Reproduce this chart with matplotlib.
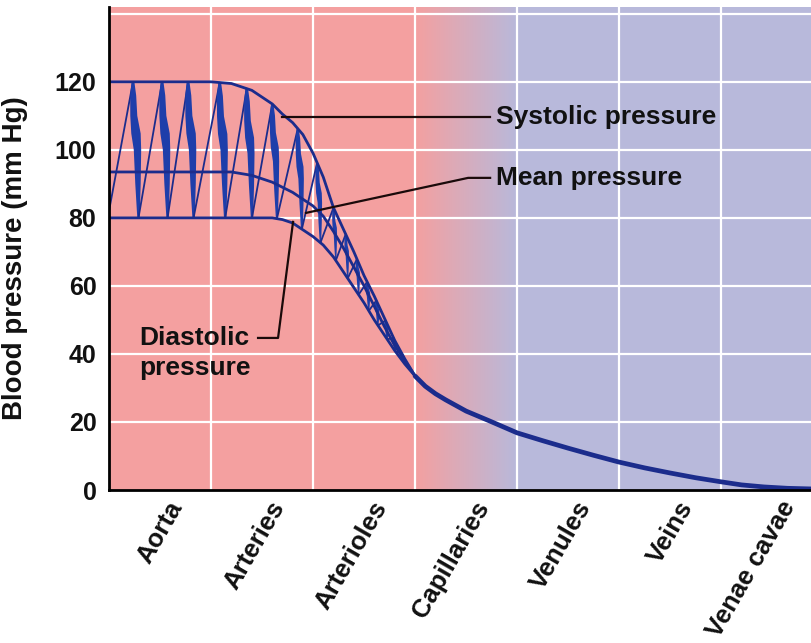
import numpy as np
import matplotlib
matplotlib.use("Agg")
import matplotlib.pyplot as plt
import matplotlib.transforms as mtransforms
from matplotlib.colors import LinearSegmentedColormap

plt.rcParams['font.family'] = ['Liberation Sans', 'DejaVu Sans']
plt.rcParams['font.weight'] = 'bold'

# ---------------- data ----------------
categories = ["Aorta", "Arteries", "Arterioles", "Capillaries", "Venules", "Veins", "Venae cavae"]
yticks = [0, 20, 40, 60, 80, 100, 120]

env_x = [0, 1.0, 1.2, 1.4, 1.6, 1.7, 1.8, 1.9, 2.0, 2.1, 2.2, 2.3, 2.4, 2.5, 2.6, 2.7, 2.8, 2.9, 3.0]
systolic = [120, 120, 119.5, 117.5, 113.5, 110.5, 108, 104.5, 99, 92, 83, 76.5, 70, 63, 57, 50.5, 44, 38.5, 33.5]
mean_p = [93.5, 93.5, 93.5, 92.5, 90.5, 89, 87.5, 85.5, 83.5, 80.5, 76, 71, 65.5, 60, 54, 48, 42.5, 38, 33.5]
diastolic = [80, 80, 80, 80, 80, 79.5, 78.5, 76.5, 74.5, 72, 68.5, 64, 59.5, 55, 50, 45.5, 41, 37, 33.5]

tail_x = [3.0, 3.1, 3.2, 3.3, 3.5, 3.73, 4.0, 4.25, 4.5, 4.75, 5.0, 5.25, 5.5, 5.75, 6.0, 6.2, 6.42, 6.65, 6.9]
tail_p = [33.5, 30.5, 28.3, 26.5, 23.2, 20.3, 16.8, 14.5, 12.3, 10.2, 8.2, 6.5, 5.0, 3.6, 2.4, 1.5, 0.9, 0.5, 0.3]

# pulse peaks (x positions of the systolic spikes)
pulse_x = [0.235, 0.52, 0.775, 1.085, 1.35, 1.6, 1.85, 2.04, 2.2, 2.32, 2.43, 2.53, 2.62, 2.71, 2.79, 2.87]

# ---------------- figure ----------------
W, H = 812, 643
fig = plt.figure(figsize=(W / 100, H / 100), dpi=100)
ax = fig.add_axes([109 / W, 1 - 490 / H, (W - 109) / W, (490 - 7) / H])
XMAX = 6.89
YMAX = 142

red = "#F4A0A0"
lav = "#B8B9DB"
ax.axvspan(0, 3, color=red, zorder=0, lw=0)
ax.axvspan(4, 8, color=lav, zorder=0, lw=0)
cmap = LinearSegmentedColormap.from_list("g", [red, lav])
ax.imshow(np.linspace(0, 1, 256)[None, :], extent=[3, 4, 0, YMAX], aspect='auto',
          cmap=cmap, zorder=0.5, interpolation='bilinear')
ax.set_xlim(0, XMAX)
ax.set_ylim(0, YMAX)

for v in range(1, 7):
    ax.axvline(v, color='white', lw=1.6, zorder=1)
for v in range(20, 160, 20):
    ax.axhline(v, color='white', lw=1.6, zorder=1)

navy = "#1B2C8C"
blue = "#1E3EAA"
pxx = 1 / 102.0  # one pixel in x data units

def sys_at(x):
    return np.interp(x, env_x, systolic)

def dia_at(x):
    return np.interp(x, env_x, diastolic)

profile = [(0, 0, 1.4), (0.1, 0.2, 3.0), (0.25, 0.8, 3.5), (0.38, 3.0, 4.7),
           (0.5, 4.5, 3.7), (0.75, 5.0, 2.7), (1.0, 5.5, 1.2)]

prev = (0.0, 82.0)
for xt in pulse_x:
    top = sys_at(xt)
    xb0 = xt + 5.5 * pxx
    A0 = top - dia_at(xb0)
    s = float(np.clip(A0 / 40.0, 0.3, 1.0))
    xb = xt + 5.5 * s * pxx
    bot = dia_at(xb)
    A = top - bot
    ax.plot([prev[0], xt], [prev[1], top], color=navy, lw=1.3, zorder=3,
            solid_capstyle='round')
    hs = max(s, 0.45)
    left = [(xt + c * s * pxx - h * hs * pxx, top - f * A) for f, c, h in profile]
    right = [(xt + c * s * pxx + h * hs * pxx, top - f * A) for f, c, h in profile]
    poly = left + right[::-1]
    ax.fill([p[0] for p in poly], [p[1] for p in poly], color=blue, lw=0, zorder=3)
    prev = (xb, bot)

ax.plot(env_x, systolic, color=navy, lw=2.0, zorder=4, solid_capstyle='round')
ax.plot(env_x, mean_p, color=navy, lw=2.0, zorder=4, solid_capstyle='round')
ax.plot(env_x, diastolic, color=navy, lw=2.0, zorder=4, solid_capstyle='round')
ax.plot(tail_x, tail_p, color=navy, lw=3.4, zorder=4, solid_capstyle='round')

# ---------------- annotations ----------------
def px2d(px, py):
    return ((px - 109) / 102.0, (490 - py) / 3.4)

fs = 19
lead = dict(color='#1a0a0a', lw=1.6, zorder=5)
p = [px2d(282, 117), px2d(490, 117)]
ax.plot([q[0] for q in p], [q[1] for q in p], **lead)
tx, ty = px2d(496, 117)
ax.text(tx, ty, "Systolic pressure", fontsize=fs, fontweight='bold', ha='left', va='center',
        color='#111111', zorder=6)

p = [px2d(306, 213), px2d(468, 178), px2d(490, 178)]
ax.plot([q[0] for q in p], [q[1] for q in p], **lead)
tx, ty = px2d(496, 178)
ax.text(tx, ty, "Mean pressure", fontsize=fs, fontweight='bold', ha='left', va='center',
        color='#111111', zorder=6)

p = [px2d(293, 222), px2d(278, 338), px2d(258, 338)]
ax.plot([q[0] for q in p], [q[1] for q in p], **lead)
tx, ty = px2d(139, 338)
ax.text(tx, ty, "Diastolic", fontsize=fs, fontweight='bold', ha='left', va='center',
        color='#111111', zorder=6)
tx, ty = px2d(139, 368)
ax.text(tx, ty, "pressure", fontsize=fs, fontweight='bold', ha='left', va='center',
        color='#111111', zorder=6)

# ---------------- axes ----------------
for side in ['top', 'right']:
    ax.spines[side].set_visible(False)
for side in ['left', 'bottom']:
    ax.spines[side].set_linewidth(2.0)
    ax.spines[side].set_color('black')
    ax.spines[side].set_zorder(7)

ax.set_yticks(yticks)
ax.set_yticklabels([str(v) for v in yticks], fontsize=18, fontweight='bold', color='#111111')
ax.tick_params(axis='y', length=0, pad=9)

centers = [i + 0.5 for i in range(len(categories))]
ax.set_xticks(centers)
ax.set_xticklabels(categories, rotation=60, ha='right', rotation_mode='anchor',
                   fontsize=18.5, fontweight='bold', color='#111111')
ax.tick_params(axis='x', length=0, pad=5)
offset = mtransforms.ScaledTranslation(7 / 100, 0, fig.dpi_scale_trans)
for lab in ax.get_xticklabels():
    lab.set_transform(lab.get_transform() + offset)

ax.set_ylabel("Blood pressure (mm Hg)", fontsize=20, fontweight='bold', color='#111111')
ax.yaxis.set_label_coords(-(109 - 28) / (W - 109), (490 - 258) / (490 - 7))

fig.savefig("out.png", dpi=100)
